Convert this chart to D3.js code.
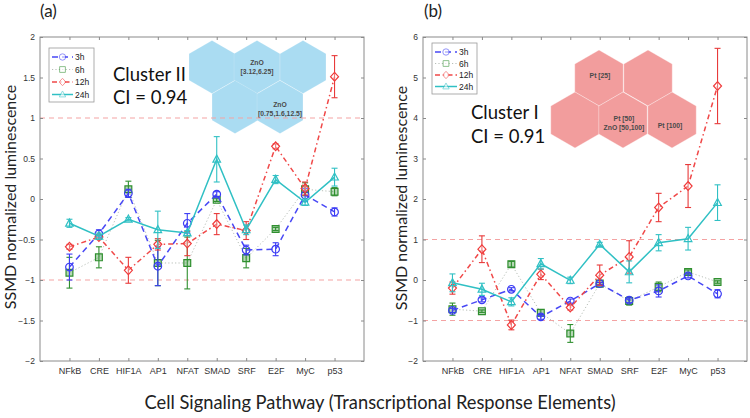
<!DOCTYPE html>
<html><head><meta charset="utf-8">
<script src="https://cdn.jsdelivr.net/npm/d3@7"></script>
<style>body{margin:0;background:#fff}svg{display:block}</style>
</head><body>
<svg id="c" width="750" height="418"></svg>
<script>
const categories = ["NFkB","CRE","HIF1A","AP1","NFAT","SMAD","SRF","E2F","MyC","p53"];
const seriesNames = ["3h","6h","12h","24h"];

// Panel (a) – Cluster II
const a3h   = [-0.84,-0.43, 0.07,-0.83,-0.30, 0.06,-0.63,-0.62, 0.05,-0.16];
const a3hE  = [ 0.16, 0.05, 0.05, 0.24, 0.12, 0.03, 0.06, 0.08, 0.08, 0.05];
const a6h   = [-0.91,-0.72, 0.12,-0.79,-0.79,-0.01,-0.73,-0.37, 0.12, 0.09];
const a6hE  = [ 0.19, 0.13, 0.10, 0.28, 0.32, 0.02, 0.12, 0.02, 0.08, 0.05];
const a12h  = [-0.59,-0.47,-0.88,-0.56,-0.55,-0.31,-0.39, 0.65, 0.13, 1.51];
const a12hE = [ 0.03, 0.03, 0.16, 0.07, 0.15, 0.13, 0.11, 0.03, 0.08, 0.26];
const a24h  = [-0.30,-0.46,-0.25,-0.38,-0.42, 0.49,-0.38, 0.24,-0.04, 0.27];
const a24hE = [ 0.05, 0.04, 0.02, 0.23, 0.03, 0.28, 0.06, 0.05, 0.04, 0.11];
const aTicks = [-2,-1.5,-1,-0.5,0,0.5,1,1.5,2];

// Panel (b) – Cluster I
const b3h   = [-0.75,-0.49,-0.23,-0.91,-0.52,-0.09,-0.50,-0.27, 0.10,-0.34];
const b3hE  = [ 0.05, 0.05, 0.04, 0.06, 0.05, 0.03, 0.06, 0.15, 0.05, 0.10];
const b6h   = [-0.72,-0.77, 0.39,-0.81,-1.32,-0.09,-0.52,-0.17, 0.20,-0.05];
const b6hE  = [ 0.15, 0.03, 0.07, 0.08, 0.22, 0.03, 0.10, 0.12, 0.05, 0.03];
const b12h  = [-0.20, 0.76,-1.11, 0.14,-0.68, 0.12, 0.57, 1.79, 2.32, 4.79];
const b12hE = [ 0.15, 0.33, 0.12, 0.13, 0.06, 0.25, 0.40, 0.35, 0.53, 0.93];
const b24h  = [-0.07,-0.23,-0.54, 0.40,-0.01, 0.88, 0.20, 0.92, 1.02, 1.91];
const b24hE = [ 0.22, 0.15, 0.10, 0.13, 0.08, 0.05, 0.27, 0.20, 0.28, 0.44];
const bTicks = [-2,-1,0,1,2,3,4,5,6];

const refLines = [-1, 1];

const styles = {
  "3h":  {color:"#3b3bf5", dash:"6,4",     width:1.5, marker:"circle",   mfill:"none", ecolor:"#3b3bf5", lineColor:"#4848f5"},
  "6h":  {color:"#2f8f2f", dash:"1.2,2.2", width:0.9, marker:"square",   mfill:"rgba(47,143,47,0.35)", ecolor:"#2f8f2f", lineColor:"#b0b8b0"},
  "12h": {color:"#f03a3a", dash:"5,3,1.5,3", width:1.5, marker:"diamond", mfill:"rgba(255,255,255,0.3)", ecolor:"#e83a3a", lineColor:"#f04848"},
  "24h": {color:"#30c0c4", dash:null,      width:1.5, marker:"triangle", mfill:"none", ecolor:"#30c0c4", lineColor:"#30c0c4"}
};

const svg = d3.select("#c");
const font = "Arial, 'Liberation Sans', sans-serif";
const font2 = "Lato, 'Open Sans', sans-serif";

function markerPath(type, s) {
  if (type === "circle") return d3.symbol(d3.symbolCircle, s*s*Math.PI)();
  if (type === "square") { const h = s*0.9; return `M${-h},${-h}H${h}V${h}H${-h}Z`; }
  if (type === "diamond") return `M0,${-s*1.15}L${s*1.05},0L0,${s*1.15}L${-s*1.05},0Z`;
  if (type === "triangle") return `M0,${-s*1.1}L${s},${s*0.75}L${-s},${s*0.75}Z`;
}

function hexPath(cx, cy, r) {
  const pts = d3.range(6).map(i => {
    const ang = Math.PI/180*(60*i - 90);
    return [cx + r*Math.cos(ang), cy + r*Math.sin(ang)];
  });
  return "M" + pts.map(p => p.join(",")).join("L") + "Z";
}

function drawPanel(cfg) {
  const g = svg.append("g");
  const x = d3.scaleLinear().domain([0, 11]).range([cfg.left, cfg.right]);
  const y = d3.scaleLinear().domain(cfg.domain).range([cfg.bottom, cfg.top]);

  cfg.hexes.forEach(h => {
    g.append("path").attr("d", hexPath(h[0], h[1], cfg.hexR))
      .attr("fill", cfg.hexColor).attr("stroke", cfg.hexStroke).attr("stroke-width", 1);
  });
  cfg.hexLabels.forEach(l => {
    const t = g.append("text").attr("x", l.x).attr("y", l.y).attr("text-anchor", "middle")
      .attr("font-family", font).attr("font-size", 6.8).attr("font-weight", "bold").attr("fill", "#4a4a4a");
    l.lines.forEach((ln, i) => t.append("tspan").attr("x", l.x).attr("dy", i === 0 ? 0 : 8.5).text(ln));
  });

  refLines.forEach(v => {
    g.append("line").attr("x1", cfg.left).attr("x2", cfg.right)
      .attr("y1", y(v)).attr("y2", y(v))
      .attr("stroke", "#f4a3a3").attr("stroke-width", 1).attr("stroke-dasharray", "5,4");
  });

  const axisColor = "#8a8a8a";
  g.append("rect").attr("x", cfg.left).attr("y", cfg.top)
    .attr("width", cfg.right - cfg.left).attr("height", cfg.bottom - cfg.top)
    .attr("fill", "none").attr("stroke", axisColor).attr("stroke-width", 1);

  const yAxis = d3.axisLeft(y).tickValues(cfg.ticks).tickSize(-3).tickPadding(5)
    .tickFormat(d => d3.format("")(d).replace("-", "\u2212"));
  const ya = g.append("g").attr("transform", `translate(${cfg.left},0)`).call(yAxis);
  ya.select(".domain").remove();
  ya.selectAll("line").attr("stroke", axisColor);
  ya.selectAll("text").attr("font-family", font).attr("font-size", 8.5).attr("fill", "#333");

  const yAxisR = d3.axisRight(y).tickValues(cfg.ticks).tickSize(-3).tickFormat("");
  const yr = g.append("g").attr("transform", `translate(${cfg.right},0)`).call(yAxisR);
  yr.select(".domain").remove();
  yr.selectAll("line").attr("stroke", axisColor);

  const xAxis = d3.axisBottom(x).tickValues(d3.range(1, 11)).tickSize(-3).tickPadding(7)
    .tickFormat(d => categories[d - 1]);
  const xa = g.append("g").attr("transform", `translate(0,${cfg.bottom})`).call(xAxis);
  xa.select(".domain").remove();
  xa.selectAll("line").attr("stroke", axisColor);
  xa.selectAll("text").attr("font-family", font).attr("font-size", 9).attr("fill", "#333");

  const xAxisT = d3.axisTop(x).tickValues(d3.range(1, 11)).tickSize(-3).tickFormat("");
  const xt = g.append("g").attr("transform", `translate(0,${cfg.top})`).call(xAxisT);
  xt.select(".domain").remove();
  xt.selectAll("line").attr("stroke", axisColor);

  cfg.series.forEach(sr => {
    const st = styles[sr.name];
    const pts = sr.values.map((v, i) => ({x: x(i + 1), v, e: sr.err[i]}));
    const line = d3.line().x(d => d.x).y(d => y(d.v));
    g.append("path").attr("d", line(pts)).attr("fill", "none")
      .attr("stroke", st.lineColor).attr("stroke-width", st.width)
      .attr("stroke-dasharray", st.dash);
    pts.forEach(p => {
      const y1 = y(p.v + p.e), y2 = y(p.v - p.e);
      g.append("line").attr("x1", p.x).attr("x2", p.x).attr("y1", y1).attr("y2", y2)
        .attr("stroke", st.ecolor).attr("stroke-width", 1.1);
      [y1, y2].forEach(yy => g.append("line").attr("x1", p.x - 3).attr("x2", p.x + 3)
        .attr("y1", yy).attr("y2", yy).attr("stroke", st.ecolor).attr("stroke-width", 1.1));
      g.append("path").attr("d", markerPath(st.marker, 3.8))
        .attr("transform", `translate(${p.x},${y(p.v)})`)
        .attr("fill", st.mfill).attr("stroke", st.color).attr("stroke-width", 1.2);
    });
  });

  const L = cfg.legend;
  g.append("rect").attr("x", L.x).attr("y", L.y).attr("width", L.w).attr("height", L.h)
    .attr("fill", "#fff").attr("stroke", "#9a9a9a").attr("stroke-width", 0.8);
  seriesNames.forEach((n, i) => {
    const st = styles[n];
    const yy = L.y + L.first + i * L.step;
    g.append("line").attr("x1", L.x + 3).attr("x2", L.x + L.lineW).attr("y1", yy).attr("y2", yy)
      .attr("stroke", st.lineColor).attr("stroke-width", st.width).attr("stroke-dasharray", st.dash);
    g.append("path").attr("d", markerPath(st.marker, 3.2))
      .attr("transform", `translate(${L.x + 3 + (L.lineW - 3) / 2},${yy})`)
      .attr("fill", "#fff").attr("stroke", st.color).attr("stroke-width", 0.9).attr("opacity", 0.6);
    g.append("text").attr("x", L.x + L.lineW + 2).attr("y", yy + 3)
      .attr("font-family", font).attr("font-size", 8.5).attr("fill", "#222").text(n);
  });

  g.append("text").attr("x", cfg.label[0]).attr("y", cfg.label[1])
    .attr("font-family", font2).attr("font-size", 17).attr("fill", "#222").text(cfg.labelText);
  cfg.cluster.forEach(c => g.append("text").attr("x", c.x).attr("y", c.y)
    .attr("font-family", font2).attr("font-size", 18.5).attr("fill", "#111").text(c.t));

  g.append("text").attr("transform", `translate(${cfg.ytitleX},${cfg.ytitleY}) rotate(-90)`)
    .attr("text-anchor", "middle").attr("font-family", font2).attr("font-size", 16).attr("fill", "#222")
    .text("SSMD normalized luminescence");
}

drawPanel({
  left: 40, right: 364, top: 37, bottom: 361, domain: [-2, 2], ticks: aTicks,
  series: [
    {name: "6h", values: a6h, err: a6hE},
    {name: "3h", values: a3h, err: a3hE},
    {name: "12h", values: a12h, err: a12hE},
    {name: "24h", values: a24h, err: a24hE}
  ],
  hexR: 26.5, hexColor: "#aadcf2", hexStroke: "rgba(255,255,255,0.15)",
  hexes: [[212, 67], [257, 67], [303, 67], [235, 107], [280, 107]],
  hexLabels: [
    {x: 257, y: 65, lines: ["ZnO", "[3.12,6.25]"]},
    {x: 280, y: 107, lines: ["ZnO", "[0.75,1.6,12.5]"]}
  ],
  legend: {x: 49, y: 48, w: 45, h: 54, first: 9, step: 12.5, lineW: 24},
  label: [40, 17], labelText: "(a)",
  cluster: [{x: 113, y: 81, t: "Cluster II"}, {x: 113, y: 104, t: "CI = 0.94"}],
  ytitleX: 16, ytitleY: 197
});

drawPanel({
  left: 423, right: 747, top: 37, bottom: 361, domain: [-2, 6], ticks: bTicks,
  series: [
    {name: "6h", values: b6h, err: b6hE},
    {name: "3h", values: b3h, err: b3hE},
    {name: "12h", values: b12h, err: b12hE},
    {name: "24h", values: b24h, err: b24hE}
  ],
  hexR: 28, hexColor: "#f29d9d", hexStroke: "rgba(255,255,255,0.35)",
  hexes: [[599, 78], [648, 78], [575, 120], [623, 120], [672, 120]],
  hexLabels: [
    {x: 600, y: 78, lines: ["Pt [25]"]},
    {x: 624, y: 121, lines: ["Pt [50]", "ZnO [50,100]"]},
    {x: 670, y: 128, lines: ["Pt [100]"]}
  ],
  legend: {x: 432, y: 43, w: 45, h: 51, first: 9, step: 11.5, lineW: 25},
  label: [424, 17], labelText: "(b)",
  cluster: [{x: 471, y: 119, t: "Cluster I"}, {x: 471, y: 143, t: "CI = 0.91"}],
  ytitleX: 407, ytitleY: 198
});

svg.append("text").attr("x", 380).attr("y", 409).attr("text-anchor", "middle")
  .attr("font-family", font2).attr("font-size", 18.3).attr("fill", "#222")
  .text("Cell Signaling Pathway (Transcriptional Response Elements)");
</script>
</body></html>
